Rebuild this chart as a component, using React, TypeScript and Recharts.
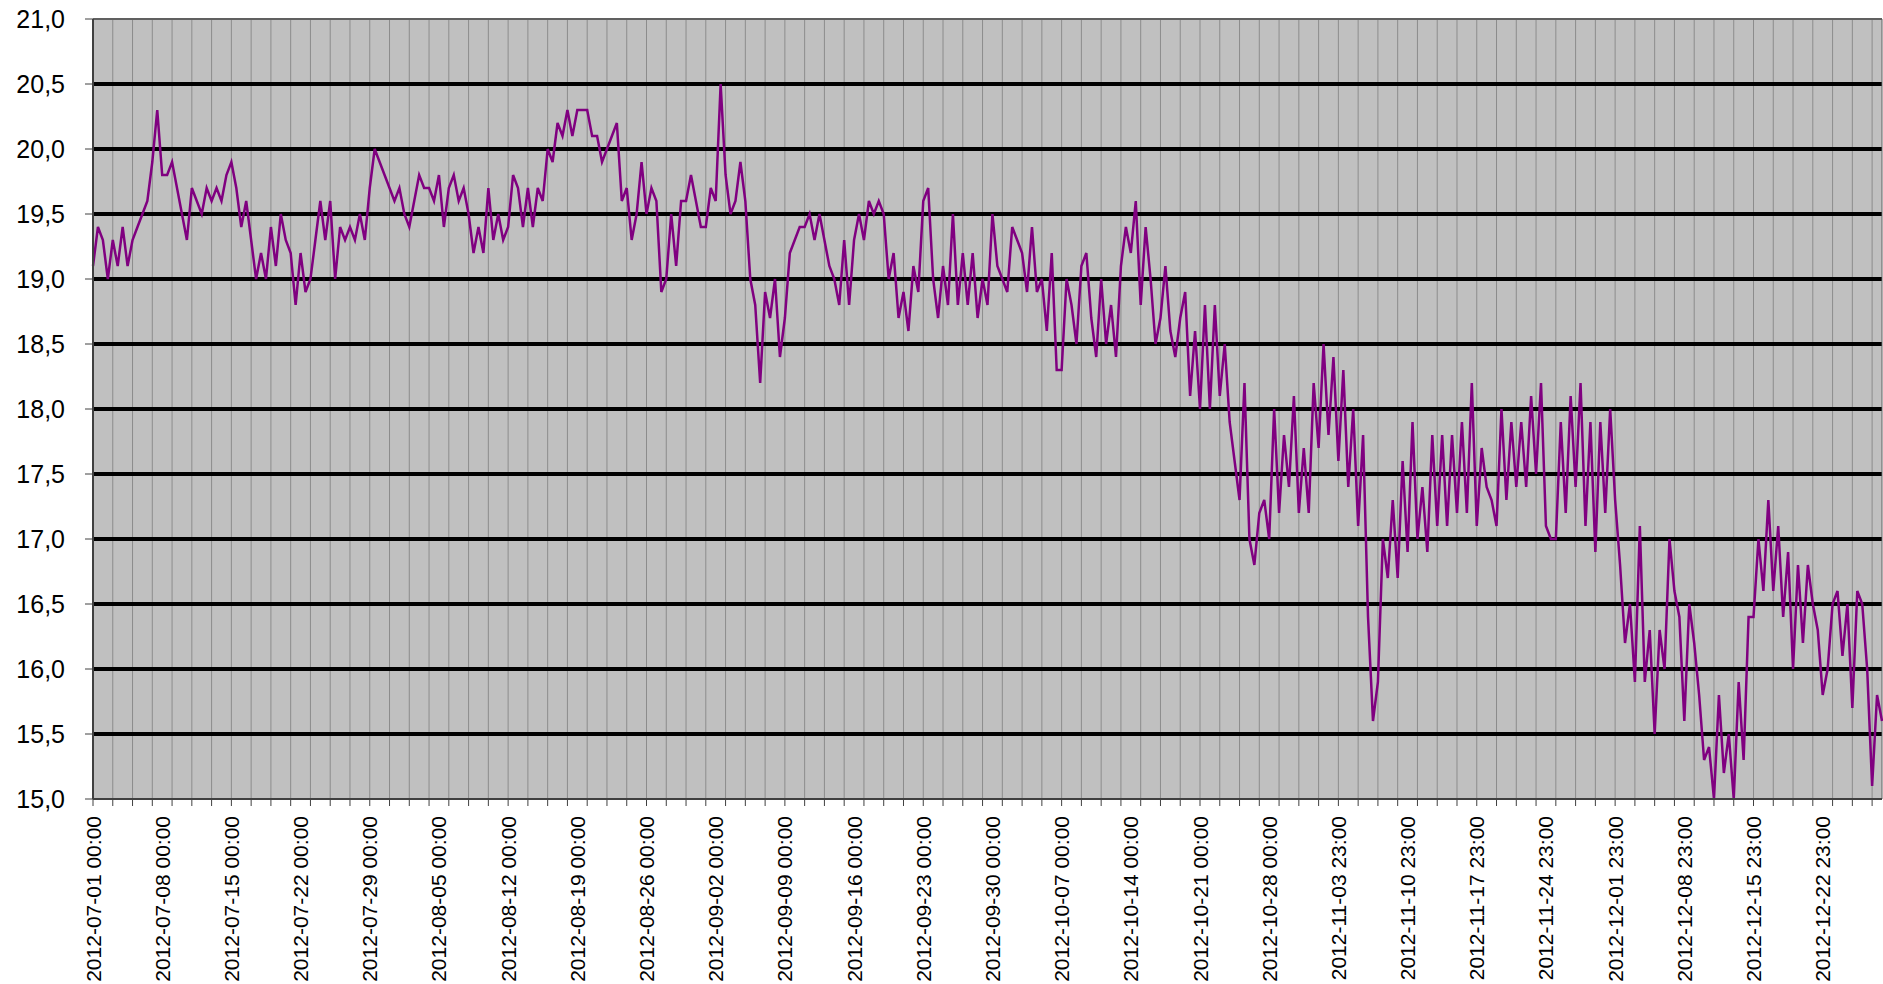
import React from 'react';
import { LineChart, Line, XAxis, YAxis, ReferenceLine, ReferenceArea } from 'recharts';

// Readings every 12 hours, starting 2012-07-01 00:00
const julyValues = [
  19.1, 19.4, 19.3, 19.0, 19.3, 19.1, 19.4, 19.1, 19.3, 19.4,
  19.5, 19.6, 19.9, 20.3, 19.8, 19.8, 19.9, 19.7, 19.5, 19.3,
  19.7, 19.6, 19.5, 19.7, 19.6, 19.7, 19.6, 19.8, 19.9, 19.7,
  19.4, 19.6, 19.3, 19.0, 19.2, 19.0, 19.4, 19.1, 19.5, 19.3,
  19.2, 18.8, 19.2, 18.9, 19.0, 19.3, 19.6, 19.3, 19.6, 19.0,
  19.4, 19.3, 19.4, 19.3, 19.5, 19.3, 19.7, 20.0, 19.9, 19.8,
  19.7, 19.6,
];
const augustValues = [
  19.7, 19.5, 19.4, 19.6, 19.8, 19.7, 19.7, 19.6, 19.8, 19.4,
  19.7, 19.8, 19.6, 19.7, 19.5, 19.2, 19.4, 19.2, 19.7, 19.3,
  19.5, 19.3, 19.4, 19.8, 19.7, 19.4, 19.7, 19.4, 19.7, 19.6,
  20.0, 19.9, 20.2, 20.1, 20.3, 20.1, 20.3, 20.3, 20.3, 20.1,
  20.1, 19.9, 20.0, 20.1, 20.2, 19.6, 19.7, 19.3, 19.5, 19.9,
  19.5, 19.7, 19.6, 18.9, 19.0, 19.5, 19.1, 19.6, 19.6, 19.8,
  19.6, 19.4,
];
const septemberValues = [
  19.4, 19.7, 19.6, 20.5, 19.8, 19.5, 19.6, 19.9, 19.6, 19.0,
  18.8, 18.2, 18.9, 18.7, 19.0, 18.4, 18.7, 19.2, 19.3, 19.4,
  19.4, 19.5, 19.3, 19.5, 19.3, 19.1, 19.0, 18.8, 19.3, 18.8,
  19.3, 19.5, 19.3, 19.6, 19.5, 19.6, 19.5, 19.0, 19.2, 18.7,
  18.9, 18.6, 19.1, 18.9, 19.6, 19.7, 19.0, 18.7, 19.1, 18.8,
  19.5, 18.8, 19.2, 18.8, 19.2, 18.7, 19.0, 18.8, 19.5, 19.1,
];
const octoberValues = [
  19.0, 18.9, 19.4, 19.3, 19.2, 18.9, 19.4, 18.9, 19.0, 18.6,
  19.2, 18.3, 18.3, 19.0, 18.8, 18.5, 19.1, 19.2, 18.7, 18.4,
  19.0, 18.5, 18.8, 18.4, 19.1, 19.4, 19.2, 19.6, 18.8, 19.4,
  19.0, 18.5, 18.7, 19.1, 18.6, 18.4, 18.7, 18.9, 18.1, 18.6,
  18.0, 18.8, 18.0, 18.8, 18.1, 18.5, 17.9, 17.6, 17.3, 18.2,
  17.0, 16.8, 17.2, 17.3, 17.0, 18.0, 17.2, 17.8, 17.4, 18.1,
  17.2, 17.7,
];
const novemberValues = [
  17.2, 18.2, 17.7, 18.5, 17.8, 18.4, 17.6, 18.3, 17.4, 18.0,
  17.1, 17.8, 16.4, 15.6, 15.9, 17.0, 16.7, 17.3, 16.7, 17.6,
  16.9, 17.9, 17.0, 17.4, 16.9, 17.8, 17.1, 17.8, 17.1, 17.8,
  17.2, 17.9, 17.2, 18.2, 17.1, 17.7, 17.4, 17.3, 17.1, 18.0,
  17.3, 17.9, 17.4, 17.9, 17.4, 18.1, 17.5, 18.2, 17.1, 17.0,
  17.0, 17.9, 17.2, 18.1, 17.4, 18.2, 17.1, 17.9, 16.9, 17.9,
];
const decemberValues = [
  17.2, 18.0, 17.3, 16.8, 16.2, 16.5, 15.9, 17.1, 15.9, 16.3,
  15.5, 16.3, 16.0, 17.0, 16.6, 16.4, 15.6, 16.5, 16.2, 15.8,
  15.3, 15.4, 15.0, 15.8, 15.2, 15.5, 15.0, 15.9, 15.3, 16.4,
  16.4, 17.0, 16.6, 17.3, 16.6, 17.1, 16.4, 16.9, 16.0, 16.8,
  16.2, 16.8, 16.5, 16.3, 15.8, 16.0, 16.5, 16.6, 16.1, 16.5,
  15.7, 16.6, 16.5, 16.0, 15.1, 15.8, 15.6,
];

const xLabels = [
  '2012-07-01 00:00', '2012-07-08 00:00', '2012-07-15 00:00', '2012-07-22 00:00',
  '2012-07-29 00:00', '2012-08-05 00:00', '2012-08-12 00:00', '2012-08-19 00:00',
  '2012-08-26 00:00', '2012-09-02 00:00', '2012-09-09 00:00', '2012-09-16 00:00',
  '2012-09-23 00:00', '2012-09-30 00:00', '2012-10-07 00:00', '2012-10-14 00:00',
  '2012-10-21 00:00', '2012-10-28 00:00', '2012-11-03 23:00', '2012-11-10 23:00',
  '2012-11-17 23:00', '2012-11-24 23:00', '2012-12-01 23:00', '2012-12-08 23:00',
  '2012-12-15 23:00', '2012-12-22 23:00',
];
const yTicks = [15, 15.5, 16, 16.5, 17, 17.5, 18, 18.5, 19, 19.5, 20, 20.5, 21];

const SAMPLE_HOURS = 12;
const LABEL_EVERY = 168; // hourly points per week
const TICK_EVERY = 48; // hourly points per 2 days
const LAST_HOUR = 4344;

const allValues = [
  ...julyValues, ...augustValues, ...septemberValues,
  ...octoberValues, ...novemberValues, ...decemberValues,
];
const data = allValues.map((v, j) => ({ h: j * SAMPLE_HOURS, t: v }));
const xTicks: number[] = [];
for (let h = 0; h <= LAST_HOUR - 24; h += TICK_EVERY) xTicks.push(h);
const labelTicks = xLabels.map((_, k) => k * LABEL_EVERY);
const innerLevels = yTicks.slice(1, -1);

const FONT = "'Liberation Sans', Arial, sans-serif";

function EmptyTick() {
  return <g />;
}

function XTick(props: any) {
  const { x, y, payload } = props;
  const v = payload.value as number;
  const label = xLabels[Math.round(v / LABEL_EVERY)];
  return (
    <text
      x={x}
      y={y}
      transform={`rotate(-90, ${x}, ${y})`}
      textAnchor="end"
      dy="0.36em"
      fontSize={21}
      fontFamily={FONT}
      fill="#000"
    >
      {label}
    </text>
  );
}

export default function App() {
  return (
    <div style={{ position: 'absolute', left: 0, top: 0, width: 1883, height: 984, background: '#fff', fontFamily: FONT }}>
      <LineChart width={1883} height={984} data={data} margin={{ top: 19, right: 1, left: 0, bottom: 0 }}>
        <ReferenceArea x1={0} x2={LAST_HOUR} y1={15} y2={21} fill="#c0c0c0" fillOpacity={1} stroke="none" />
        {xTicks.slice(1).map((h) => (
          <ReferenceLine key={`v${h}`} x={h} stroke="#8c8c8c" strokeWidth={1} />
        ))}
        {innerLevels.map((v) => (
          <ReferenceLine key={`h${v}`} y={v} stroke="#000" strokeWidth={4} />
        ))}
        <XAxis
          dataKey="h"
          type="number"
          domain={[0, LAST_HOUR]}
          ticks={xTicks}
          interval={0}
          height={7}
          tickSize={7}
          tickMargin={0}
          tick={<EmptyTick />}
          axisLine={{ stroke: '#404040', strokeWidth: 2 }}
          tickLine={{ stroke: '#404040', strokeWidth: 1 }}
        />
        <XAxis
          xAxisId="labels"
          dataKey="h"
          type="number"
          domain={[0, LAST_HOUR]}
          ticks={labelTicks}
          interval={0}
          height={178}
          tickSize={0}
          tickMargin={10}
          tick={<XTick />}
          axisLine={false}
          tickLine={false}
        />
        <YAxis
          domain={[15, 21]}
          ticks={yTicks}
          interval={0}
          width={93}
          tickSize={8}
          tickMargin={20}
          tickFormatter={(v: number) => v.toFixed(1).replace('.', ',')}
          tick={{ fontSize: 25, fill: '#000', fontFamily: FONT }}
          axisLine={{ stroke: '#404040', strokeWidth: 2 }}
          tickLine={{ stroke: '#404040', strokeWidth: 1 }}
        />
        <ReferenceLine y={21} stroke="#606060" strokeWidth={2} />
        <ReferenceLine x={LAST_HOUR} stroke="#606060" strokeWidth={1} />
        <Line
          type="linear"
          dataKey="t"
          stroke="#800080"
          strokeWidth={2.5}
          dot={false}
          isAnimationActive={false}
        />
      </LineChart>
    </div>
  );
}
